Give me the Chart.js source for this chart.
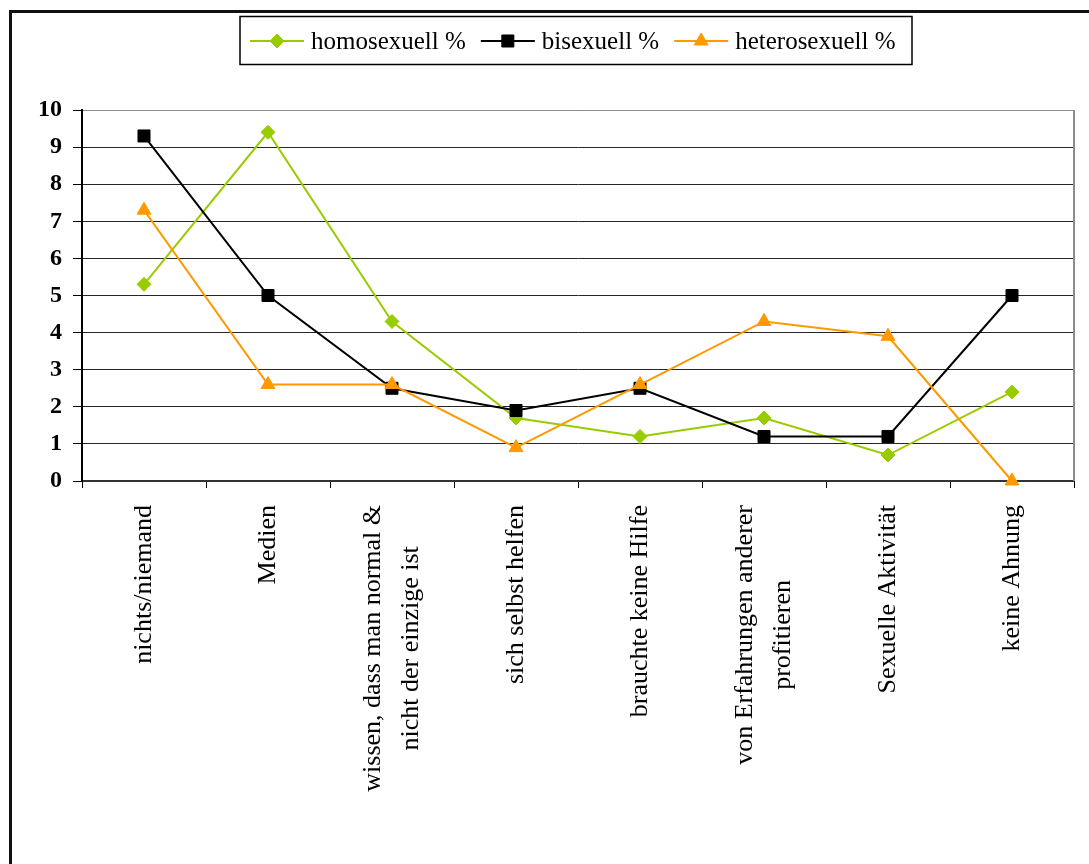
<!DOCTYPE html>
<html>
<head>
<meta charset="utf-8">
<script src="https://cdn.jsdelivr.net/npm/chart.js@4/dist/chart.umd.min.js"></script>
<style>
  body { margin: 0; background: #fff; }
  #wrap { width: 1089px; height: 864px; position: relative; }
</style>
</head>
<body>
<div id="wrap"><canvas id="chart"></canvas></div>
<script>
const categories = [
  ['nichts/niemand'],
  ['Medien'],
  ['wissen, dass man normal &', 'nicht der einzige ist'],
  ['sich selbst helfen'],
  ['brauchte keine Hilfe'],
  ['von Erfahrungen anderer', 'profitieren'],
  ['Sexuelle Aktivität'],
  ['keine Ahnung']
];
const seriesNames = ['homosexuell %', 'bisexuell %', 'heterosexuell %'];
const homoValues = [5.3, 9.4, 4.3, 1.7, 1.2, 1.7, 0.7, 2.4];
const biValues = [9.3, 5.0, 2.5, 1.9, 2.5, 1.2, 1.2, 5.0];
const heteroValues = [7.3, 2.6, 2.6, 0.9, 2.6, 4.3, 3.9, 0];
const yTicks = [0, 1, 2, 3, 4, 5, 6, 7, 8, 9, 10];

function series(label, data, color, style, radius, order) {
  return {
    label: label,
    data: data,
    borderColor: color,
    backgroundColor: color,
    borderWidth: 2,
    pointStyle: style,
    pointRadius: radius,
    pointHoverRadius: radius,
    pointBorderWidth: 1,
    tension: 0,
    clip: false,
    order: order
  };
}

// draws the category labels, the legend and the frame the way the old office chart looks
const excelLook = {
  id: 'excelLook',
  afterDraw(chart) {
    const ctx = chart.ctx;
    const area = chart.chartArea;
    const xScale = chart.scales.x;
    ctx.save();

    ctx.strokeStyle = '#8c8c8c';
    ctx.lineWidth = 2;
    ctx.beginPath();
    ctx.moveTo(area.right, area.top);
    ctx.lineTo(area.right, area.bottom);
    ctx.stroke();

    // rotated category labels, lines centred, block starts under the axis
    ctx.fillStyle = '#000';
    ctx.font = '26px "Liberation Serif"';
    ctx.textAlign = 'center';
    ctx.textBaseline = 'middle';
    chart.data.labels.forEach((lines, i) => {
      const px = xScale.getPixelForValue(i);
      const w = Math.max(...lines.map(l => ctx.measureText(l).width));
      ctx.save();
      ctx.translate(px, area.bottom + 24 + w / 2);
      ctx.rotate(-Math.PI / 2);
      lines.forEach((l, j) => ctx.fillText(l, 0, (j - (lines.length - 1) / 2) * 38));
      ctx.restore();
    });

    // legend
    ctx.strokeStyle = '#000';
    ctx.lineWidth = 1.5;
    ctx.strokeRect(240, 16.5, 672, 48);
    ctx.font = '25px "Liberation Serif"';
    ctx.textAlign = 'left';
    let lx = 250;
    const ly = 41;
    chart.data.datasets.forEach(ds => {
      ctx.strokeStyle = ds.borderColor;
      ctx.fillStyle = ds.backgroundColor;
      ctx.lineWidth = 2;
      ctx.beginPath();
      ctx.moveTo(lx, ly);
      ctx.lineTo(lx + 54, ly);
      ctx.stroke();
      ctx.lineWidth = 1;
      Chart.helpers.drawPoint(ctx, { pointStyle: ds.pointStyle, radius: ds.pointRadius, rotation: 0, borderWidth: 1 }, lx + 27, ly);
      ctx.fillStyle = '#000';
      ctx.fillText(ds.label, lx + 61, ly + 1);
      lx += 61 + ctx.measureText(ds.label).width + 15;
    });

    // outer frame (runs off the right and bottom edge)
    ctx.strokeStyle = '#111';
    ctx.lineWidth = 3;
    ctx.beginPath();
    ctx.moveTo(10.5, chart.height);
    ctx.lineTo(10.5, 11.5);
    ctx.lineTo(chart.width, 11.5);
    ctx.stroke();

    ctx.restore();
  }
};

new Chart(document.getElementById('chart'), {
  type: 'line',
  data: {
    labels: categories,
    datasets: [
      series(seriesNames[0], homoValues, '#99cc00', 'rectRot', 7, 3),
      series(seriesNames[1], biValues, '#000000', 'rect', 8.5, 2),
      series(seriesNames[2], heteroValues, '#ff9900', 'triangle', 8, 1)
    ]
  },
  options: {
    responsive: true,
    maintainAspectRatio: false,
    animation: false,
    events: [],
    layout: { padding: { top: 110, right: 15, bottom: 0, left: 0 } },
    plugins: {
      legend: { display: false },
      tooltip: { enabled: false }
    },
    scales: {
      x: {
        type: 'category',
        offset: true,
        grid: { offset: true, drawOnChartArea: false, tickLength: 7, color: '#000', lineWidth: 1 },
        border: { color: '#333', width: 2 },
        ticks: { display: false },
        afterFit(s) { s.height = 383; }
      },
      y: {
        min: 0,
        max: 10,
        afterBuildTicks(s) { s.ticks = yTicks.map(v => ({ value: v })); },
        ticks: {
          color: '#000',
          padding: 11,
          font: { family: 'Liberation Serif', size: 24, weight: 'bold' }
        },
        grid: {
          color: c => (c.tick && c.tick.value === 10 ? '#8c8c8c' : '#262626'),
          tickColor: '#000',
          tickLength: 9,
          lineWidth: 1
        },
        border: { color: '#000', width: 2 },
        afterFit(s) { s.width = 82; }
      }
    }
  },
  plugins: [excelLook]
});
</script>
</body>
</html>
